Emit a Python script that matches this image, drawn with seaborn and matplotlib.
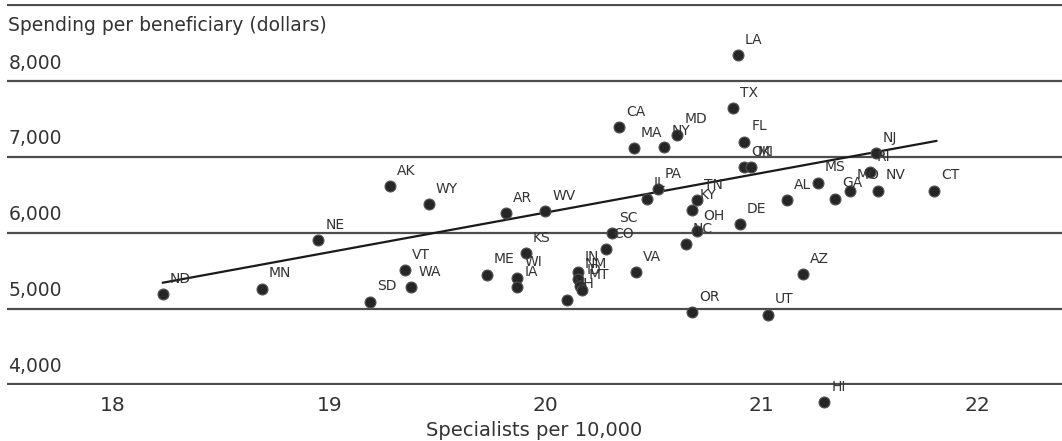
import numpy as np
import pandas as pd
import matplotlib
matplotlib.use("Agg")
import matplotlib.pyplot as plt
import seaborn as sns

states = ["ND", "MN", "NE", "SD", "VT", "WA", "AK", "WY", "AR", "WV",
          "ME", "KS", "WI", "IA", "IN", "NM", "ID", "MT", "NH", "SC",
          "CO", "VA", "CA", "MA", "NY", "MD", "LA", "TX", "FL", "OK",
          "MI", "IL", "PA", "TN", "KY", "OH", "NC", "DE", "AL", "MS",
          "GA", "MO", "RI", "NJ", "NV", "CT", "AZ", "UT", "HI", "OR"]
specialists = [18.23, 18.69, 18.95, 19.19, 19.35, 19.38, 19.28, 19.46, 19.82, 20.00,
               19.73, 19.91, 19.87, 19.87, 20.15, 20.15, 20.16, 20.17, 20.10, 20.31,
               20.28, 20.42, 20.34, 20.41, 20.55, 20.61, 20.89, 20.87, 20.92, 20.92,
               20.95, 20.47, 20.52, 20.70, 20.68, 20.70, 20.65, 20.90, 21.12, 21.26,
               21.34, 21.41, 21.50, 21.53, 21.54, 21.80, 21.19, 21.03, 21.29, 20.68]
spending = [5190, 5260, 5900, 5090, 5510, 5285, 6610, 6375, 6255, 6280,
            5445, 5730, 5405, 5285, 5480, 5390, 5300, 5245, 5115, 5995,
            5785, 5480, 7395, 7110, 7135, 7290, 8340, 7645, 7200, 6860,
            6860, 6450, 6570, 6425, 6295, 6020, 5850, 6110, 6425, 6660,
            6450, 6555, 6795, 7045, 6555, 6555, 5455, 4920, 3765, 4955]
# trend line end points as drawn in the source chart
trend_x = [18.23, 21.81]
trend_y = [5340, 7210]
y_ticks = [4000, 5000, 6000, 7000, 8000, 9000]
x_ticks = [18, 19, 20, 21, 22]

df = pd.DataFrame({"state": states, "specialists": specialists, "spending": spending})
trend = pd.DataFrame({"x": trend_x, "y": trend_y})

sns.set_theme(style="white")
plt.rcParams["font.family"] = ["DejaVu Sans"]

TEXT = "#333333"
fig = plt.figure(figsize=(10.62, 4.41), dpi=100)
ax = fig.add_axes([0.0066, 0.127, 0.9934, 0.8628])

sns.lineplot(data=trend, x="x", y="y", color="#1a1a1a", lw=1.6, zorder=2, ax=ax)
sns.scatterplot(data=df, x="specialists", y="spending", s=62, color="#262626",
                edgecolor="#555555", linewidth=0.8, ax=ax, clip_on=False, zorder=3)

for st, xv, yv in zip(states, specialists, spending):
    ax.annotate(st, (xv, yv), xytext=(5, 6), textcoords="offset points",
                fontsize=10, color=TEXT, ha="left", va="bottom",
                annotation_clip=False, zorder=4)

ax.set_xlim(17.51, 22.39)
ax.set_ylim(3992, 9008)
ax.set_yticks(y_ticks)
ax.yaxis.grid(True, color="#4d4d4d", lw=1.6)
ax.xaxis.grid(False)
ax.set_axisbelow(True)
ax.tick_params(axis="y", length=0, labelleft=False)
ax.set_xticks(x_ticks)
ax.tick_params(axis="x", length=0, pad=8, labelsize=14.5, labelcolor=TEXT)
for s in ax.spines.values():
    s.set_visible(False)

for v in y_ticks[:-1]:
    ax.annotate(f"{v:,}", xy=(0, v), xycoords=("axes fraction", "data"),
                xytext=(1, 6), textcoords="offset points", ha="left", va="bottom",
                fontsize=13.5, color=TEXT)
ax.annotate("Spending per beneficiary (dollars)", xy=(0, y_ticks[-1]),
            xycoords=("axes fraction", "data"), xytext=(1, -8),
            textcoords="offset points", ha="left", va="top", fontsize=13.5, color=TEXT)

ax.set_xlabel("Specialists per 10,000", fontsize=14, labelpad=4, color=TEXT)
ax.set_ylabel("")

fig.savefig("out.png", dpi=100)
